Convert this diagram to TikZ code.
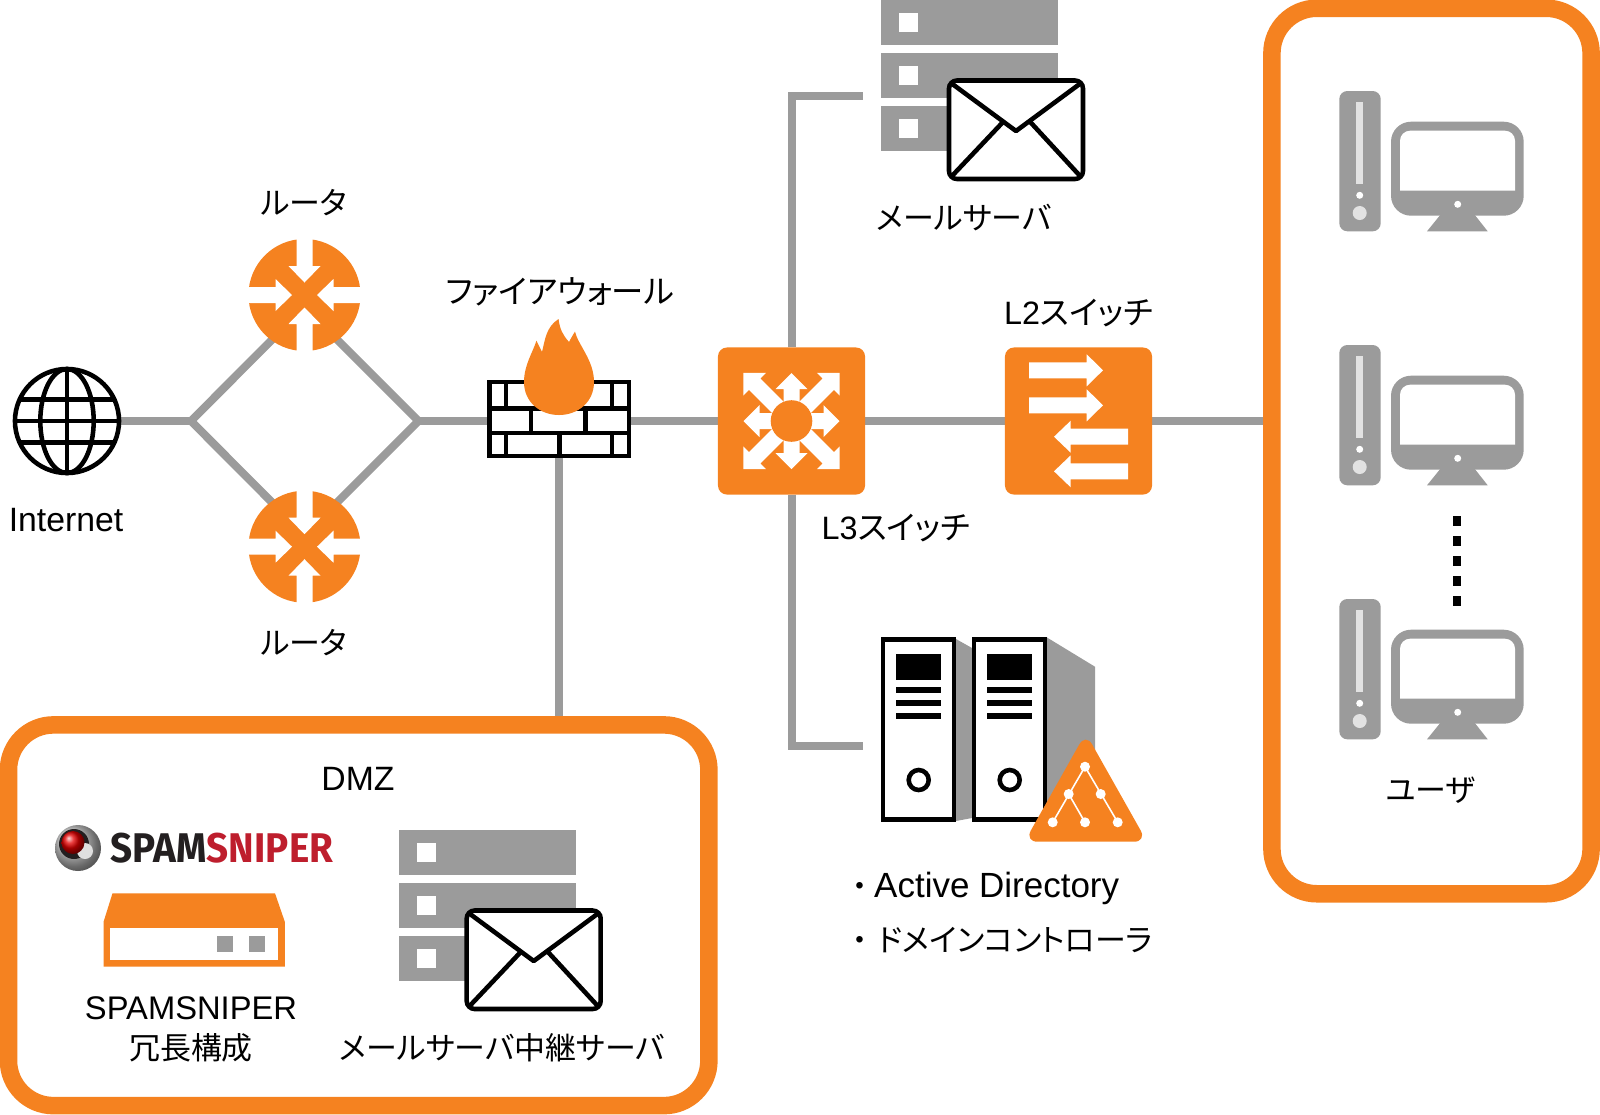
\documentclass[tikz,border=0pt]{standalone}
\usepackage{fontspec}
\setmainfont[RawFeature={+palt}]{Noto Sans CJK JP}
\newfontfamily\latfont{Liberation Sans}
\newfontfamily\logofont[FakeStretch=0.93]{Fira Sans}
\usetikzlibrary{positioning,calc,backgrounds}
\definecolor{accentcolor}{RGB}{245,130,32}
\definecolor{linkgray}{RGB}{155,155,155}
\definecolor{slitgray}{RGB}{226,226,226}
\definecolor{logored}{RGB}{190,30,45}
\definecolor{logoblack}{RGB}{35,31,32}

\tikzset{
  link/.style={line width=2.28pt, linkgray},
  inkline/.style={line width=1.3pt, black},
  txt/.style={font=\fontsize{8.8pt}{10pt}\selectfont, inner sep=0pt, text=black},
  widetxt/.style={font=\fontsize{9.2pt}{10pt}\selectfont, inner sep=0pt, text=black},
  lat/.style={font=\latfont\fontsize{9.6pt}{10pt}\selectfont, inner sep=0pt, text=black},
  framebox/.style={draw=accentcolor, line width=4.98pt, rounded corners=0.45cm, fill=white, inner sep=0pt},
  routernode/.style={circle, fill=accentcolor, minimum size=1.12cm, inner sep=0pt},
  switchnode/.style={rectangle, fill=accentcolor, rounded corners=0.09cm, minimum size=1.47cm, inner sep=0pt, outer sep=0pt},
}

% white block arrow along the x axis of the current scope: #1 start, #2 head base, #3 tip
\newcommand{\blockarrow}[3]{
  \fill[white] (#1,-8) -- (#2,-8) -- (#2,-16) -- (#3,0) -- (#2,16) -- (#2,8) -- (#1,8) -- cycle;
}

% bars and envelope of a mail server
\newcommand{\mailicon}[2]{
  \begin{scope}[shift={(#1,#2)}]
    \foreach \y in {0,53,106} {
      \fill[linkgray] (0,\y) rectangle (177,\y+45);
      \fill[white] (18,\y+13) rectangle (37,\y+32);
    }
    \draw[inkline, fill=white, rounded corners=0.08cm] (68,80.5) rectangle (202,179);
    \draw[inkline, line join=round] (70,83) -- (135,131) -- (200,83);
    \draw[inkline] (70,177) -- (122.3,121.7);
    \draw[inkline] (200,177) -- (149,121.7);
  \end{scope}
}

% one cabinet of the directory server
\newcommand{\cabinet}[1]{
  \begin{scope}[shift={(#1,0)}]
    \draw[inkline, fill=white] (883,639.5) rectangle (954,819.5);
    \fill[black] (896,654) rectangle (941,680);
    \foreach \y in {687,700,713} {
      \fill[black] (896,\y) rectangle (941,\y+6);
    }
    \draw[inkline] (918.7,780) circle (10);
  \end{scope}
}

% tower and monitor of a user PC
\newcommand{\pcicon}[1]{
  \begin{scope}[shift={(0,#1)}]
    \fill[linkgray, rounded corners=0.08cm] (1339.3,91) rectangle (1380.7,231.3);
    \fill[slitgray] (1356.3,102) rectangle (1363.3,184);
    \fill[white] (1359.7,195.3) circle (3.5);
    \fill[slitgray] (1359.7,213) circle (7);
    \fill[linkgray, rounded corners=0.2cm] (1391,121.7) rectangle (1523.7,215.7);
    \fill[white] (1400,190.7) {[rounded corners=0.1cm] -- (1400,130.7) -- (1515,130.7)} -- (1515,190.7) -- cycle;
    \fill[white] (1457.7,204.3) circle (3.5);
    \fill[linkgray] (1441,214) -- (1474,214) -- (1487.7,231.3) -- (1427,231.3) -- cycle;
  \end{scope}
}

\begin{document}
\begin{tikzpicture}[x=0.01cm, y=-0.01cm]
\useasboundingbox (0,0) rectangle (1600,1114);

% ================= FRAMES =================
\node[framebox, minimum width=3.19cm, minimum height=8.85cm] (userbox) at (1431.5,451) {};
\node[framebox, minimum width=7cm, minimum height=3.805cm] (dmzbox) at (358.7,915.25) {};

% ================= GLOBE =================
\node[circle, draw=black, line width=1.3pt, fill=white, minimum size=1.04cm, inner sep=0pt] (globe) at (67,421) {};
\draw[inkline] (globe.center) ellipse (26.7 and 52);
\draw[inkline] (globe.north) -- (globe.south);
\draw[inkline] (globe.west) -- (globe.east);
\draw[inkline] (19.7,399.5) -- (114.3,399.5);
\draw[inkline] (19.7,442.5) -- (114.3,442.5);
\node[lat] (inettext) at (66,520) {Internet};

% ================= ROUTERS =================
\node[routernode] (routera) at (304.5,295) {};
\node[routernode] (routerb) at (304.5,546.7) {};
\foreach \r in {routera,routerb} {
  \foreach \a in {0,90,180,270} {
    \begin{scope}[shift={(\r)}, rotate=\a]
      \fill[white] (29,-8) -- (57,-8) -- (57,8) -- (29,8) -- (29,16) -- (12.5,0) -- (29,-16) -- cycle;
    \end{scope}
  }
}
\node[txt] (routeratext) at (304,203) {ルータ};
\node[txt] (routerbtext) at (304,643) {ルータ};

% ================= FIREWALL =================
\node[rectangle, draw=black, line width=1.3pt, fill=white, minimum width=1.39cm, minimum height=0.74cm, inner sep=0pt] (fwall) at (559.25,419) {};
\draw[inkline] (487.5,408.7) -- (631,408.7);
\draw[inkline] (487.5,433) -- (631,433);
\foreach \x in {506,612} {
  \draw[inkline] (\x,382) -- (\x,408.7);
  \draw[inkline] (\x,433) -- (\x,456);
}
\foreach \x in {531,585.5} {
  \draw[inkline] (\x,408.7) -- (\x,433);
}
\draw[inkline] (559.5,433) -- (559.5,456);
\fill[accentcolor] (558.5,319) .. controls (560,330) and (563,335) .. (569,342)
  .. controls (571,338) and (573,335) .. (575,331.5)
  .. controls (578,345) and (594,360) .. (594,382)
  .. controls (594,402) and (578,415) .. (559,415)
  .. controls (540,415) and (524,402) .. (524,382)
  .. controls (524,365) and (533,352) .. (536.4,340.7)
  .. controls (538,344) and (540,348) .. (542,352)
  .. controls (545,340) and (546,327) .. (558.5,319) -- cycle;
\node[widetxt] (fwalltext) at (560,292) {ファイアウォール};

% ================= SWITCHES =================
\node[switchnode] (l3sw) at (791.5,421) {};
\foreach \a in {0,90,180,270} {
  \begin{scope}[shift={(l3sw)}, rotate=\a]
    \blockarrow{15}{32}{48}
  \end{scope}
  \begin{scope}[shift={(l3sw)}, rotate=\a+45]
    \blockarrow{15}{52}{68}
  \end{scope}
}
\fill[accentcolor] (l3sw.center) circle (20.8);
\node[widetxt] (l3text) at (896,528) {{\latfont L3}スイッチ};

\node[switchnode] (l2sw) at (1078.5,421) {};
\foreach \y in {370.3,405.3} {
  \begin{scope}[shift={(1029,\y)}]
    \blockarrow{0}{57.7}{74}
  \end{scope}
}
\foreach \y in {436.7,471.3} {
  \begin{scope}[shift={(1128,\y)}, xscale=-1]
    \blockarrow{0}{57.3}{74}
  \end{scope}
}
\node[widetxt] (l2text) at (1078.5,313) {{\latfont L2}スイッチ};

% ================= MAIL SERVER =================
\mailicon{881}{0}
\coordinate (mailend) at (863,96);
\node[txt] (mailtext) at (964,218) {メールサーバ};

% ================= DIRECTORY SERVER =================
\fill[linkgray] (956,639) -- (972,648) -- (972,818) -- (956,821) -- cycle;
\fill[linkgray] (1046.7,637.3) -- (1095,666.7) -- (1095,812) -- (1046.7,821) -- cycle;
\cabinet{0}
\cabinet{91}
\fill[accentcolor, rounded corners=0.13cm] (1085.7,733) -- (1147,841.7) -- (1024.5,841.7) -- cycle;
\draw[white, line width=0.45pt] (1052.7,822.3) -- (1085,766.7) -- (1117.7,822.3);
\draw[white, line width=0.45pt] (1068.7,794) -- (1085,822.3);
\foreach \x/\y in {1085/766.7,1068.7/794,1100.7/794,1052.7/822.3,1085/822.3,1117.7/822.3} {
  \fill[white] (\x,\y) circle (5);
}
\coordinate (adend) at (863,746);
\node[txt, anchor=west] (adtext) at (852,888.5) {・\hspace{0.06cm}{\latfont\fontsize{9.95pt}{10pt}\selectfont Active Directory}};
\node[txt, anchor=west] (dctext) at (852,940) {・\hspace{0.1cm}ドメインコントローラ};

% ================= USERS =================
\pcicon{0}
\pcicon{254}
\pcicon{508}
\foreach \y in {516,536,556,576,596} {
  \fill[black] (1453,\y) rectangle (1461,\y+9.5);
}
\node[txt] (usertext) at (1430.6,790) {ユーザ};

% ================= DMZ =================
\node[lat] (dmztext) at (358,779) {DMZ};
\mailicon{398.7}{830}
\node[txt] (relaytext) at (502,1048) {メールサーバ中継サーバ};

% Logo
\shade[ball color=gray!35] (78,848) circle (23);
\fill[logoblack] (74,844) circle (15);
\fill[white!75!gray] (85,851) circle (8);
\shade[ball color=red!90!black] (73,842.5) circle (11.5);
\node[inner sep=0pt, font=\logofont\bfseries\fontsize{11.8pt}{12pt}\selectfont, text=logoblack] (logotext) at (222,848.5) {SPAM\textcolor{logored}{SNIPER}};

% Appliance
\fill[accentcolor] (112.5,893.3) -- (275,893.3) -- (284.8,921.7) -- (284.8,966.7) -- (103.6,966.7) -- (103.6,921.7) -- cycle;
\fill[white] (110,928) rectangle (278,960);
\fill[linkgray] (216.5,935.7) rectangle (233,952.3);
\fill[linkgray] (248.7,935.7) rectangle (265,952.3);
\node[lat, font=\latfont\fontsize{9.3pt}{10pt}\selectfont] (appltext) at (191,1008) {SPAMSNIPER};
\node[txt] (pairtext) at (191,1048) {冗長構成};

% ================= CONNECTORS =================
\coordinate (joinl) at (191,421);
\coordinate (joinr) at (418.5,421);
\coordinate (topjoin) at (304.5,307);
\coordinate (botjoin) at (304.5,535);
\begin{scope}[on background layer]
  \draw[link] (globe) -- (joinl);
  \draw[link] (joinl) -- (topjoin) -- (joinr) -- (botjoin) -- cycle;
  \draw[link] (joinr) -- (l3sw);
  \draw[link] (l3sw) -- (l2sw);
  \draw[link] (l2sw) -- (userbox.west |- l2sw);
  \draw[link] (fwall.south) -- (fwall.south |- dmzbox.north);
  \draw[link] (l3sw.north) |- (mailend);
  \draw[link] (l3sw.south) |- (adend);
\end{scope}

\end{tikzpicture}
\end{document}
